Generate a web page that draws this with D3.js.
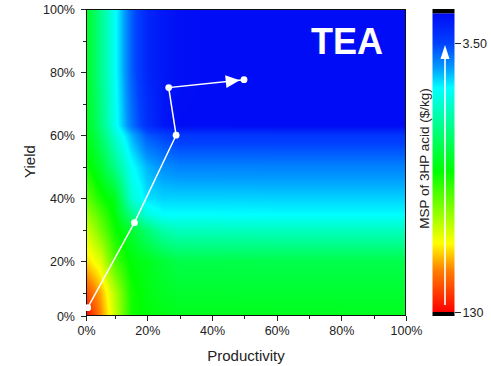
<!DOCTYPE html>
<html>
<head>
<meta charset="utf-8">
<script src="https://cdn.jsdelivr.net/npm/d3@7"></script>
<style>
  html, body { margin: 0; padding: 0; background: #fff; }
  svg { display: block; }
  text { font-family: "Liberation Sans", Arial, Helvetica, sans-serif; fill: #222; }
</style>
</head>
<body>
<svg id="chart" width="491" height="366"></svg>
<script>
// Sampled grid of MSP of 3HP acid ($/kg) over productivity (columns, %) and yield (rows, %)
const productivity = [0, 5, 10, 15, 20, 25, 30, 40, 60, 80, 100];
const yieldLevels  = [0, 10, 20, 30, 35, 40, 50, 60, 63, 80, 100];
const msp = [
  [130,  74.1, 42.2, 21.3, 18.9, 18.2, 17.4, 17.4, 17.4, 17.3, 17.3],
  [94.3, 65.7, 39.0, 21.3, 18.2, 16.8, 16.1, 16.1, 16.0, 16.0, 16.0],
  [58.2, 45.8, 26.1, 18.9, 17.4, 15.5, 14.3, 14.3, 14.2, 14.2, 14.2],
  [44.0, 30.6, 20.5, 16.1, 11.7, 9.18, 8.46, 8.46, 8.40, 8.40, 8.40],
  [36.0, 26.1, 18.9, 10.8, 7.21, 6.39, 6.39, 6.39, 6.35, 6.35, 6.35],
  [29.4, 21.3, 17.4, 7.82, 5.90, 5.67, 5.67, 5.67, 5.65, 5.65, 5.65],
  [21.3, 16.1, 10.8, 6.66, 5.23, 4.64, 4.46, 4.46, 4.45, 4.45, 4.45],
  [18.9, 12.7, 7.82, 5.23, 3.80, 3.50, 3.23, 3.23, 3.22, 3.22, 3.22],
  [18.2, 11.7, 6.93, 4.28, 3.10, 2.54, 2.34, 2.33, 2.32, 2.32, 2.32],
  [17.4, 10.8, 6.66, 3.95, 2.86, 2.54, 2.40, 2.32, 2.30, 2.30, 2.30],
  [17.4, 10.8, 6.66, 3.95, 2.86, 2.54, 2.40, 2.32, 2.30, 2.30, 2.30]
];

// Improvement trajectory (productivity %, yield %)
const pathProductivity = [0.6, 16.0, 28.9, 26.6, 49.9];
const pathYield        = [3.6, 32.3, 60.0, 75.1, 77.6];

const axisTicks  = [0, 20, 40, 60, 80, 100];
const minorTicks = [10, 30, 50, 70, 90];
const colorbarTicks = [3.5, 130];

// Rainbow palette positions (0 = highest MSP, 1 = lowest)
const paletteStops  = [0, 0.14, 0.23, 0.47, 0.75, 0.82, 0.9, 1.0];
const paletteColors = ["#ff0000", "#ff8000", "#ffff00", "#00ff00", "#00ffff", "#0098ff", "#0040ff", "#000cf5"];

const svg = d3.select("#chart");
const plot = { left: 86, right: 406, top: 9, bottom: 316 };

const x = d3.scaleLinear().domain([0, 10, 100]).range([plot.left, 115, plot.right]);
const y = d3.scaleLinear().domain([0, 10, 100]).range([plot.bottom, 293, plot.top]);

const level = d3.scaleLog().domain([130, 3.5]).range([0, 0.9]);
const palette = d3.scaleLinear().domain(paletteStops).range(paletteColors)
  .interpolate(d3.interpolateRgb).clamp(true);
const colorOf = v => palette(level(v));

// Continuous surface: bilinear blend of the grid in log space
function surface(p, yl) {
  const i = Math.max(0, Math.min(productivity.length - 2, d3.bisectRight(productivity, p) - 1));
  const j = Math.max(0, Math.min(yieldLevels.length - 2, d3.bisectRight(yieldLevels, yl) - 1));
  const fx = Math.max(0, Math.min(1, (p - productivity[i]) / (productivity[i + 1] - productivity[i])));
  const fy = Math.max(0, Math.min(1, (yl - yieldLevels[j]) / (yieldLevels[j + 1] - yieldLevels[j])));
  const l00 = Math.log(msp[j][i]), l10 = Math.log(msp[j][i + 1]);
  const l01 = Math.log(msp[j + 1][i]), l11 = Math.log(msp[j + 1][i + 1]);
  const a = l00 + (l10 - l00) * fx;
  const b = l01 + (l11 - l01) * fx;
  return Math.exp(a + (b - a) * fy);
}

const W = plot.right - plot.left, H = plot.bottom - plot.top;
const canvas = document.createElement("canvas");
canvas.width = W; canvas.height = H;
const ctx = canvas.getContext("2d");
const img = ctx.createImageData(W, H);
for (let py = 0; py < H; py++) {
  const yl = y.invert(plot.top + py + 0.5);
  for (let px = 0; px < W; px++) {
    const p = x.invert(plot.left + px + 0.5);
    const c = d3.rgb(colorOf(surface(p, yl)));
    const k = (py * W + px) * 4;
    img.data[k] = c.r; img.data[k + 1] = c.g; img.data[k + 2] = c.b; img.data[k + 3] = 255;
  }
}
ctx.putImageData(img, 0, 0);
svg.append("image")
  .attr("x", plot.left).attr("y", plot.top)
  .attr("width", W).attr("height", H)
  .attr("preserveAspectRatio", "none")
  .attr("href", canvas.toDataURL());

// Axes
const pct = d => d + "%";
function styleAxis(g) {
  g.select(".domain").remove();
  g.selectAll("line").attr("stroke", "#222").attr("shape-rendering", "crispEdges");
  g.selectAll("text").attr("font-size", "12.5px").attr("fill", "#222");
}
svg.append("g").attr("transform", `translate(0,${plot.bottom})`)
  .call(d3.axisBottom(x).tickValues(axisTicks).tickFormat(pct).tickSize(5).tickPadding(5.5).tickSizeOuter(0))
  .call(styleAxis);
svg.append("g").attr("transform", `translate(0,${plot.bottom})`)
  .call(d3.axisBottom(x).tickValues(minorTicks).tickFormat("").tickSize(3).tickSizeOuter(0))
  .call(styleAxis);
svg.append("g").attr("transform", `translate(${plot.left},0)`)
  .call(d3.axisLeft(y).tickValues(axisTicks).tickFormat(pct).tickSize(5.5).tickPadding(5.5).tickSizeOuter(0))
  .call(styleAxis);
svg.append("g").attr("transform", `translate(${plot.left},0)`)
  .call(d3.axisLeft(y).tickValues(minorTicks).tickFormat("").tickSize(3).tickSizeOuter(0))
  .call(styleAxis);

svg.append("rect")
  .attr("x", plot.left + 0.5).attr("y", plot.top + 0.5)
  .attr("width", W - 1).attr("height", H - 1)
  .attr("fill", "none").attr("stroke", "#111").attr("stroke-width", 1);

// Axis titles
svg.append("text")
  .attr("x", (plot.left + plot.right) / 2).attr("y", 360.5)
  .attr("text-anchor", "middle").attr("font-size", "15px")
  .text("Productivity");
svg.append("text")
  .attr("transform", "translate(35,161.5) rotate(-90)")
  .attr("text-anchor", "middle").attr("font-size", "15px")
  .text("Yield");

// Trajectory
const pts = pathProductivity.map((p, i) => [x(p), y(pathYield[i])]);
svg.append("path")
  .attr("d", d3.line()(pts))
  .attr("fill", "none").attr("stroke", "#fff").attr("stroke-width", 1.5);

const [ax, ay] = pts[pts.length - 2], [bx, by] = pts[pts.length - 1];
const len = Math.hypot(bx - ax, by - ay), ux = (bx - ax) / len, uy = (by - ay) / len;
const tipX = bx - ux * 4.3, tipY = by - uy * 4.3;
const baseX = tipX - ux * 14, baseY = tipY - uy * 14;
svg.append("path")
  .attr("d", `M${tipX},${tipY}L${baseX - uy * 6.5},${baseY + ux * 6.5}L${baseX + uy * 6.5},${baseY - ux * 6.5}Z`)
  .attr("fill", "#fff");

svg.append("g").selectAll("circle").data(pts).join("circle")
  .attr("cx", d => d[0]).attr("cy", d => d[1]).attr("r", 3.4)
  .attr("fill", "#fff");

svg.append("text")
  .attr("x", 311).attr("y", 54)
  .attr("font-size", "36px").attr("font-weight", "bold")
  .style("fill", "#fff")
  .text("TEA");

// Colour bar
const bar = { x: 432.5, w: 22, top: 9, gradTop: 13.3, gradBottom: 312, bottom: 316 };
const grad = svg.append("defs").append("linearGradient")
  .attr("id", "rainbow").attr("x1", 0).attr("y1", 1).attr("x2", 0).attr("y2", 0);
grad.selectAll("stop").data(paletteStops).join("stop")
  .attr("offset", d => d).attr("stop-color", (d, i) => paletteColors[i]);
svg.append("rect")
  .attr("x", bar.x).attr("y", bar.gradTop)
  .attr("width", bar.w).attr("height", bar.gradBottom - bar.gradTop)
  .attr("fill", "url(#rainbow)");
svg.append("rect")
  .attr("x", bar.x).attr("y", bar.top).attr("width", bar.w).attr("height", bar.gradTop - bar.top)
  .attr("fill", "#000");
svg.append("rect")
  .attr("x", bar.x).attr("y", bar.gradBottom).attr("width", bar.w).attr("height", bar.bottom - bar.gradBottom)
  .attr("fill", "#000");

const cb = d3.scaleLog().domain([130, 3.5])
  .range([bar.gradBottom, bar.gradBottom - 0.9 * (bar.gradBottom - bar.gradTop)]);
svg.append("g").attr("transform", `translate(${bar.x + bar.w},0)`)
  .call(d3.axisRight(cb).tickValues(colorbarTicks)
    .tickFormat(d => d < 10 ? d3.format(".2f")(d) : d3.format("d")(d))
    .tickSize(6).tickPadding(2).tickSizeOuter(0))
  .call(styleAxis);

// Upward arrow inside the colour bar
const arrowX = bar.x + 12.5;
svg.append("line")
  .attr("x1", arrowX).attr("x2", arrowX).attr("y1", 305).attr("y2", 57)
  .attr("stroke", "#fff").attr("stroke-width", 1.6);
svg.append("path")
  .attr("d", `M${arrowX},45L${arrowX - 4.5},59L${arrowX + 4.5},59Z`)
  .attr("fill", "#fff");

svg.append("text")
  .attr("transform", "translate(428.5,158.5) rotate(-90)")
  .attr("text-anchor", "middle").attr("font-size", "13.5px")
  .text("MSP of 3HP acid ($/kg)");
</script>
</body>
</html>
